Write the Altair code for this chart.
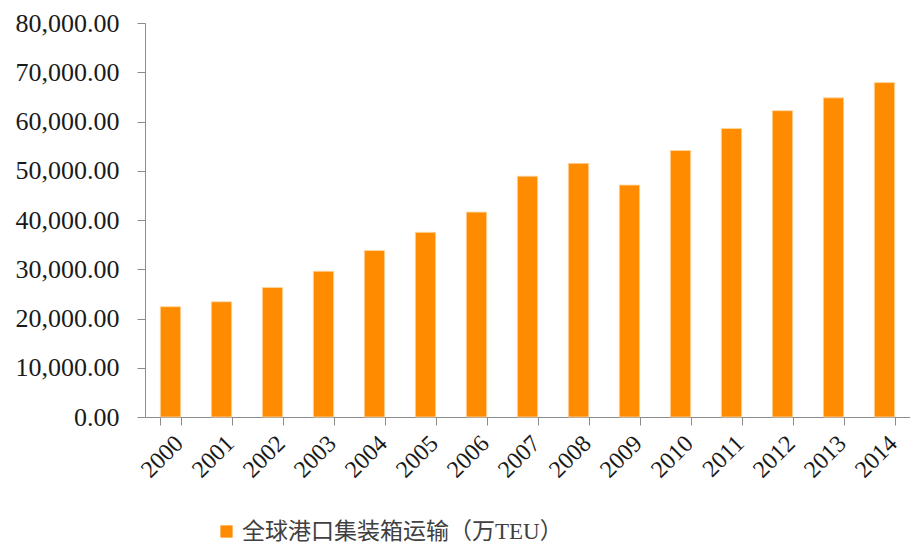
import altair as alt
import pandas as pd

years = [str(y) for y in range(2000, 2015)]
values = [22400, 23400, 26300, 29600, 33800, 37500, 41600, 48900, 51500, 47100,
          54100, 58600, 62200, 64800, 67900]
series = "全球港口集装箱运输（万TEU）"

df = pd.DataFrame({"year": years, "value": values, "series": [series] * len(years)})

serif = "Liberation Serif, Times New Roman, Noto Sans CJK SC"

chart = alt.Chart(df).mark_bar(
    stroke="#FFD9A8", strokeWidth=0.8
).encode(
    x=alt.X("year:N", sort=years,
            scale=alt.Scale(paddingInner=0.6, paddingOuter=0.3),
            axis=alt.Axis(title=None, labelAngle=-45, labelFont=serif, labelFontSize=24,
                          labelColor="#1a1a1a", tickBand="extent", tickSize=8,
                          domainColor="#8c8c8c", tickColor="#8c8c8c", labelPadding=6)),
    y=alt.Y("value:Q", scale=alt.Scale(domain=[0, 80000], nice=False),
            axis=alt.Axis(title=None, format=",.2f", values=list(range(0, 80001, 10000)),
                          labelFont=serif, labelFontSize=26, labelColor="#1a1a1a",
                          grid=False, tickSize=8, labelPadding=18,
                          domainColor="#8c8c8c", tickColor="#8c8c8c")),
    color=alt.Color("series:N", scale=alt.Scale(range=["#FF8C00"]),
                    legend=alt.Legend(title=None, orient="none", legendX=70, legendY=497,
                                      symbolType="square", symbolSize=150,
                                      symbolStrokeWidth=0,
                                      labelFont=serif, labelFontSize=23,
                                      labelColor="#404040", labelLimit=500)),
).properties(
    width=765, height=394,
    autosize=alt.AutoSizeParams(type="none"),
    padding={"left": 137, "top": 15, "right": 0, "bottom": 126},
).configure_view(stroke=None)

chart.save("out.html", embed_options={"renderer": "svg", "actions": False})
